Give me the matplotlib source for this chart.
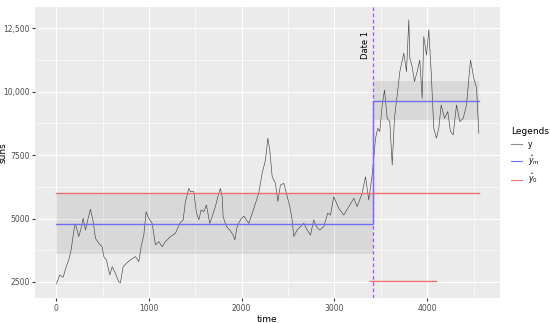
import matplotlib
matplotlib.use("Agg")
import matplotlib.pyplot as plt
from matplotlib.lines import Line2D
from matplotlib.ticker import FixedLocator

# series (time, suns)
time = [3, 39, 75, 111, 136, 161, 197, 208, 244, 269, 291, 316, 341, 370, 399, 424,
        459, 496, 514, 542, 578, 604, 639, 675, 693, 722, 758, 801, 855, 891, 916, 945,
        970, 999, 1035, 1071, 1107, 1143, 1178, 1232, 1286, 1333, 1369, 1394, 1430, 1448,
        1484, 1513, 1538, 1563, 1592, 1620, 1656, 1682, 1718, 1743, 1771, 1790, 1800, 1836,
        1872, 1908, 1926, 1951, 1987, 2023, 2077, 2131, 2184, 2221, 2257, 2282, 2303, 2329,
        2364, 2390, 2418, 2454, 2491, 2519, 2544, 2562, 2598, 2634, 2670, 2706, 2742, 2777,
        2806, 2842, 2885, 2928, 2957, 2993, 3047, 3101, 3155, 3209, 3245, 3299, 3335, 3370,
        3407, 3424, 3443, 3467, 3489, 3515, 3540, 3569, 3597, 3623, 3647, 3677, 3705, 3748,
        3777, 3802, 3813, 3838, 3863, 3892, 3920, 3946, 3963, 3993, 4017, 4043, 4071, 4100,
        4125, 4151, 4187, 4222, 4251, 4280, 4316, 4352, 4388, 4424, 4467, 4503, 4532, 4557]
suns = [2420, 2776, 2685, 3130, 3370, 3760, 4680, 4790, 4290, 4620, 5010, 4550, 4950, 5370, 4880, 4220,
        4030, 3890, 3500, 3370, 2780, 3100, 2840, 2510, 2470, 3100, 3240, 3370, 3500, 3300, 3890, 4350,
        5270, 5010, 4810, 3960, 4090, 3890, 4090, 4290, 4420, 4810, 4950, 5670, 6190, 6060,
        6060, 5210, 4950, 5340, 5270, 5540, 4810, 5080, 5490, 5860, 6190, 5860, 5080, 4680,
        4550, 4350, 4160, 4680, 4950, 5100, 4810, 5400, 6000, 6790, 7310, 8170, 7700, 6650,
        6390, 5670, 6320, 6390, 5860, 5470, 4950, 4290, 4550, 4680, 4810, 4550, 4350, 4950,
        4680, 4550, 4680, 5210, 5140, 5860, 5400, 5140, 5470, 5800, 5470, 6000, 6650, 5730,
        6720, 7380, 8170, 8560, 8430, 9480, 10070, 8950, 8820, 7110, 8950, 9870, 10790, 11520,
        10790, 12830, 11320, 10990, 10400, 10790, 11250, 9740, 12170, 11450, 12440, 10790, 8560, 8170,
        8560, 9480, 8950, 9220, 8430, 8300, 9480, 8820, 8950, 9480, 11250, 10530, 10140, 8360]

date1 = 3418
t_end = 4557
mean_before, mean_after = 4800, 9650
band_before = (3600, 6000)
band_after = (8880, 10420)
y0_level = 6000
y0_low_level, y0_low_span = 2550, (3383, 4100)

xticks = [0, 1000, 2000, 3000, 4000]
yticks = [2500, 5000, 7500, 10000, 12500]
ylabels = ["2500", "5000", "7500", "10,000", "12,500"]

blue = "#6E6EF7"
red = "#F07070"

fig = plt.figure(figsize=(5.5, 3.23), dpi=100)
ax = fig.add_axes([35 / 550, 1 - 298 / 323, 465 / 550, 291 / 323])
ax.set_facecolor("#EBEBEB")
for s in ax.spines.values():
    s.set_visible(False)

ax.set_xlim(-228, 4785)
ax.set_ylim(1869, 13340)
ax.xaxis.set_major_locator(FixedLocator(xticks))
ax.yaxis.set_major_locator(FixedLocator(yticks))
ax.xaxis.set_minor_locator(FixedLocator([500, 1500, 2500, 3500, 4500]))
ax.yaxis.set_minor_locator(FixedLocator([3750, 6250, 8750, 11250]))
ax.set_yticklabels(ylabels)
ax.grid(which="major", color="white", lw=0.8)
ax.grid(which="minor", color="white", lw=0.4)
ax.set_axisbelow(True)
ax.tick_params(which="major", length=2, color="#333333", labelsize=5.5, labelcolor="#4D4D4D", pad=2)
ax.tick_params(which="minor", length=0)

ax.fill_between([0, date1], *band_before, color="black", alpha=0.08, lw=0)
ax.fill_between([date1, t_end], *band_after, color="black", alpha=0.08, lw=0)

ax.plot(time, suns, color="#333333", lw=0.45, alpha=0.9)
ax.plot([0, date1, date1, t_end], [mean_before, mean_before, mean_after, mean_after],
        color=blue, lw=1.0)
ax.plot([0, t_end], [y0_level, y0_level], color=red, lw=1.0)
ax.plot(y0_low_span, [y0_low_level, y0_low_level], color=red, lw=1.0)
ax.axvline(date1, color="#A855F0", lw=0.9, ls=(0, (3, 2)))
ax.text(3335, 11850, "Date 1", rotation=90, ha="center", va="center", fontsize=6)

ax.set_xlabel("time", fontsize=6.5, labelpad=2)
ax.set_ylabel("suns", fontsize=6.5)
ax.yaxis.set_label_coords(-27 / 465, 0.5)

handles = [Line2D([], [], color="#8C8C8C", lw=0.8),
           Line2D([], [], color=blue, lw=0.8),
           Line2D([], [], color=red, lw=0.8)]
leg = fig.legend(handles, ["y", r"$\hat{y}_m$", r"$\hat{y}_0$"], title="Legends",
                 loc="upper left", bbox_to_anchor=(504 / 550, 1 - 120 / 323),
                 frameon=False, fontsize=5.5, title_fontsize=6.5, handlelength=1.4,
                 labelspacing=0.55, alignment="left")

fig.savefig("out.png", dpi=100)
